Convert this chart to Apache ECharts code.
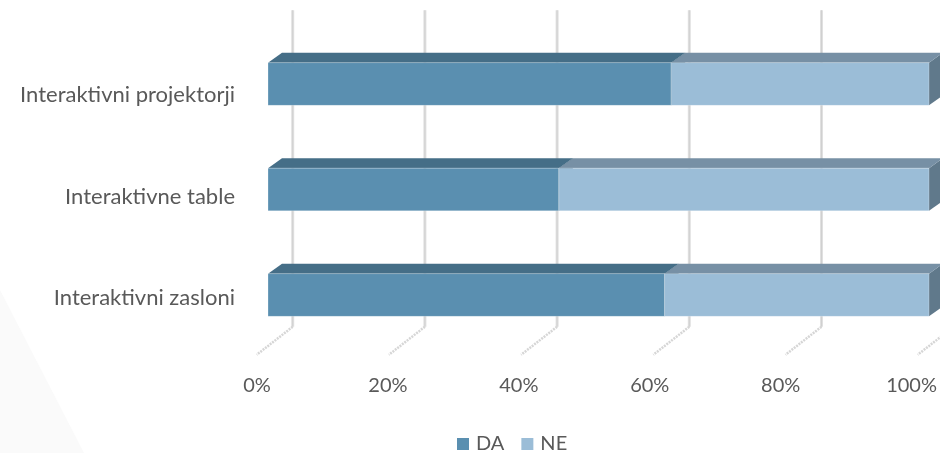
<!DOCTYPE html>
<html>
<head>
<meta charset="utf-8">
<script src="https://cdn.jsdelivr.net/npm/echarts@6/dist/echarts.min.js"></script>
<style>
html,body{margin:0;padding:0;background:#fff;}
#chart{width:940px;height:453px;}
</style>
</head>
<body>
<div id="chart"></div>
<script>
// ---- data ----
const categories = ['Interaktivni projektorji', 'Interaktivne table', 'Interaktivni zasloni'];
const seriesNames = ['DA', 'NE'];
const daValues = [61, 44, 60];
const neValues = [39, 56, 40];
const xTicks = [0, 20, 40, 60, 80, 100];
const xTickLabels = ['0%', '20%', '40%', '60%', '80%', '100%'];

// ---- style ----
const FONT = 'Lato';
const TEXT = '#595959';
const DEPTH_X = 14, DEPTH_Y = 10;      // bar 3D depth
const WALL_X = 24.7, WALL_Y = 21;      // back wall offset
const BAR_RATIO = 0.405;
const COLORS = {
  DA: {front: '#5a8fb0', top: '#456e87', side: '#3f6479'},
  NE: {front: '#9bbdd7', top: '#7790a5', side: '#60798b'}
};

const chart = echarts.init(document.getElementById('chart'));

function barRenderer(name) {
  const c = COLORS[name];
  return function (params, api) {
    const idx = api.value(0);
    const p0 = api.coord([api.value(1), idx]);
    const p1 = api.coord([api.value(2), idx]);
    const h = api.size([0, 1])[1] * BAR_RATIO;
    const yT = p0[1] - h / 2, yB = p0[1] + h / 2;
    const x0 = p0[0], x1 = p1[0];
    return {
      type: 'group',
      children: [
        {type: 'polygon', shape: {points: [[x1, yT], [x1 + DEPTH_X, yT - DEPTH_Y], [x1 + DEPTH_X, yB - DEPTH_Y], [x1, yB]]},
         style: {fill: c.side}},
        {type: 'polygon', shape: {points: [[x0, yT], [x0 + DEPTH_X, yT - DEPTH_Y], [x1 + DEPTH_X, yT - DEPTH_Y], [x1, yT]]},
         style: {fill: c.top}},
        {type: 'rect', shape: {x: x0, y: yT, width: x1 - x0, height: h},
         style: {fill: c.front, stroke: 'rgba(255,255,255,0.25)', lineWidth: 1}}
      ]
    };
  };
}

function gridRenderer(params, api) {
  const cs = params.coordSys;
  const x = api.coord([api.value(0), 0])[0];
  const bx = x + WALL_X;
  const yTop = cs.y - WALL_Y;
  const yFloor = cs.y + cs.height - WALL_Y;
  const yFront = cs.y + cs.height + 7;
  return {
    type: 'group',
    children: [
      {type: 'line', shape: {x1: bx, y1: yTop, x2: bx, y2: yFloor},
       style: {stroke: '#e0e0e0', lineWidth: 3}},
      {type: 'line', shape: {x1: bx, y1: yTop, x2: bx, y2: yFloor},
       style: {stroke: '#d0d0d0', lineWidth: 1}},
      {type: 'line', shape: {x1: bx, y1: yFloor, x2: x - 11.3, y2: yFront},
       style: {stroke: '#d6d6d6', lineWidth: 2.5, lineDash: [2, 1]}}
    ]
  };
}

const daData = categories.map((c, i) => [i, 0, daValues[i]]);
const neData = categories.map((c, i) => [i, daValues[i], daValues[i] + neValues[i]]);

chart.setOption({
  backgroundColor: '#ffffff',
  animation: false,
  textStyle: {fontFamily: FONT},
  graphic: [{
    type: 'polygon', z: -10, silent: true,
    shape: {points: [[0, 290], [84, 453], [0, 453]]},
    style: {fill: '#fafafa'}
  }],
  legend: {
    data: seriesNames,
    left: 452, top: 429,
    icon: 'rect', itemWidth: 12, itemHeight: 12, itemGap: 17,
    textStyle: {fontFamily: FONT, fontSize: 20, color: TEXT, padding: [0, 0, 0, 2]}
  },
  grid: [
    {left: 268, right: 11, top: 31.25, bottom: 105.25},
    {left: 243, width: 100, top: 44.25, bottom: 104.25},
    {left: 257, right: 22, top: 300, bottom: 83}
  ],
  xAxis: [
    {gridIndex: 0, type: 'value', min: 0, max: 100, interval: 20, show: false},
    {gridIndex: 1, type: 'value', show: false},
    {gridIndex: 2, type: 'category', data: xTickLabels, boundaryGap: false,
     axisLine: {show: false}, axisTick: {show: false}, splitLine: {show: false},
     axisLabel: {margin: 6, fontFamily: FONT, fontSize: 20, color: TEXT}}
  ],
  yAxis: [
    {gridIndex: 0, type: 'category', data: categories, inverse: true, show: false},
    {gridIndex: 1, type: 'category', data: categories, inverse: true,
     axisLine: {show: false}, axisTick: {show: false}, splitLine: {show: false},
     axisLabel: {margin: 8, fontFamily: FONT, fontSize: 22, color: TEXT}},
    {gridIndex: 2, type: 'value', show: false}
  ],
  series: [
    {type: 'custom', name: 'walls', xAxisIndex: 0, yAxisIndex: 0, z: 1, silent: true,
     renderItem: gridRenderer, data: xTicks.map(v => [v]), clip: false},
    {type: 'custom', name: 'DA', xAxisIndex: 0, yAxisIndex: 0, z: 2,
     itemStyle: {color: COLORS.DA.front},
     renderItem: barRenderer('DA'), data: daData, encode: {x: [1, 2], y: 0}, clip: false},
    {type: 'custom', name: 'NE', xAxisIndex: 0, yAxisIndex: 0, z: 3,
     itemStyle: {color: COLORS.NE.front},
     renderItem: barRenderer('NE'), data: neData, encode: {x: [1, 2], y: 0}, clip: false}
  ]
});
</script>
</body>
</html>
